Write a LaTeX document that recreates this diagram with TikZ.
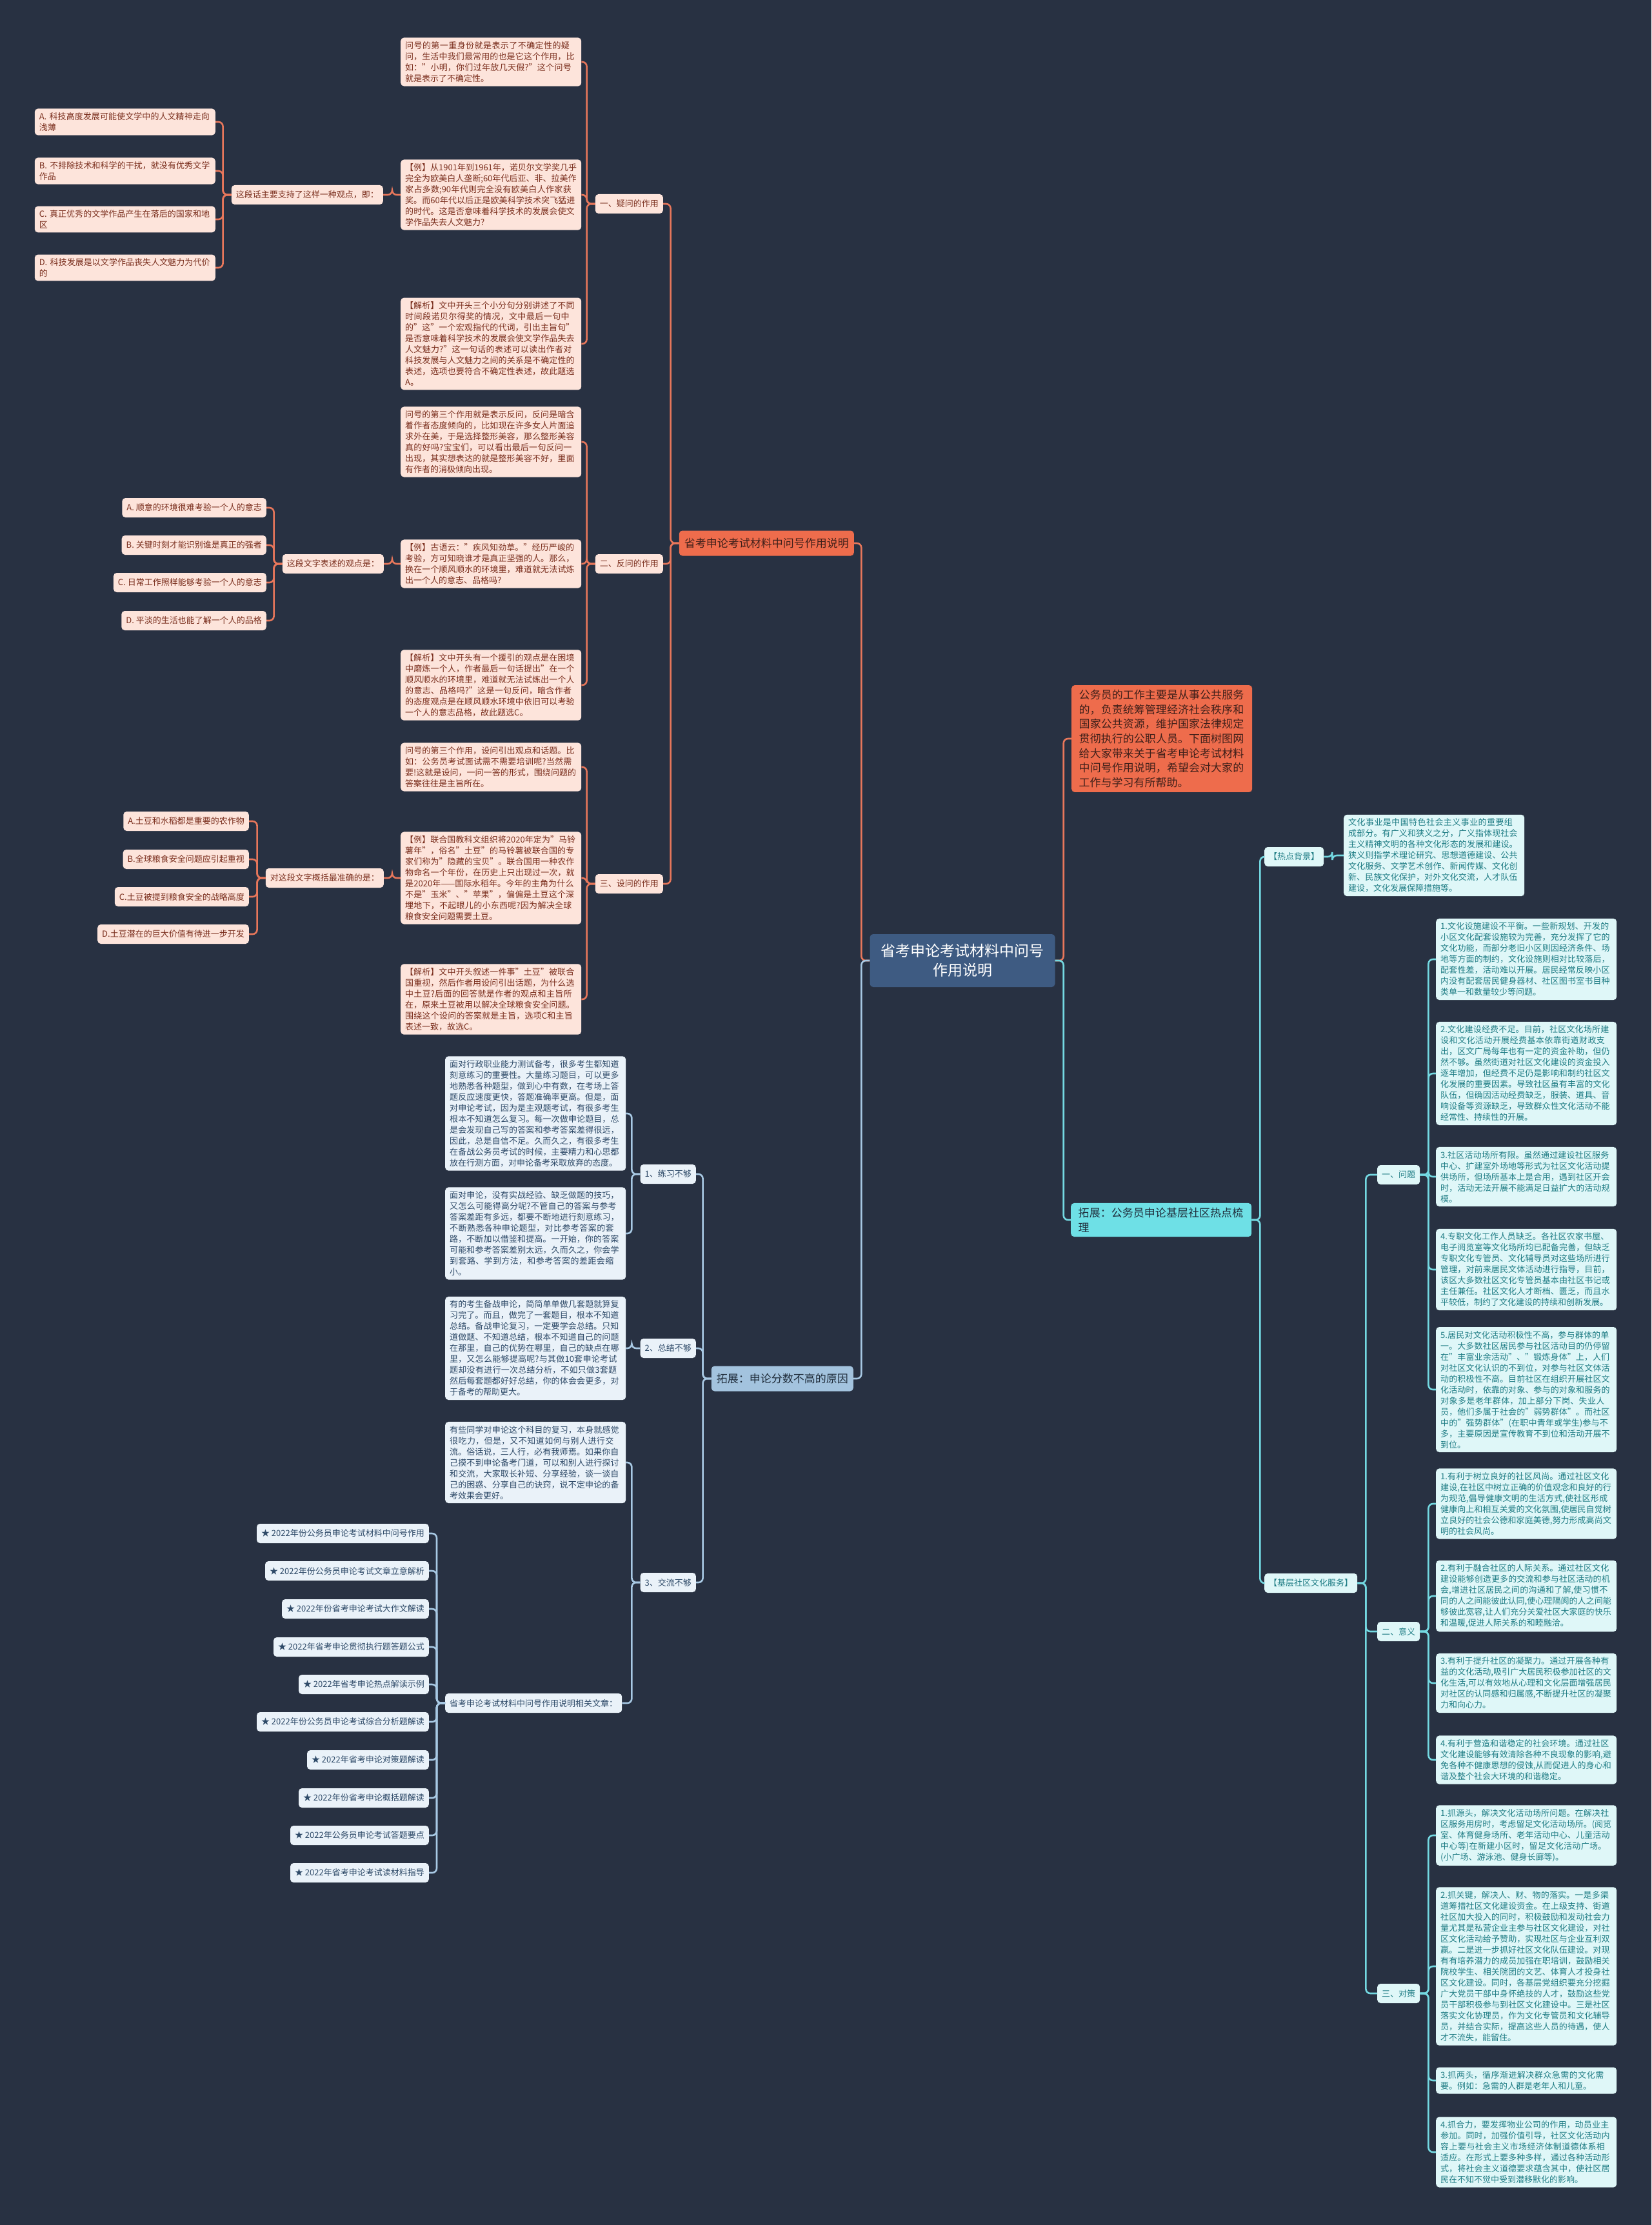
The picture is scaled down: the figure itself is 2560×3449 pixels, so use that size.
\documentclass[tikz,border=0pt]{standalone}
\usepackage{fontspec}
\setmainfont{Noto Sans CJK SC}
\XeTeXlinebreaklocale "zh"
\XeTeXlinebreakskip=0pt plus 1pt
\definecolor{bgnavy}{HTML}{283142}
\definecolor{orline}{HTML}{E8775B}
\definecolor{orfill}{HTML}{FDE4DB}
\definecolor{ortext}{HTML}{7A2E1D}
\definecolor{orhead}{HTML}{EE6C4C}
\definecolor{ordark}{HTML}{40201A}
\definecolor{rootblue}{HTML}{3E5B82}
\definecolor{blline}{HTML}{A8C9E4}
\definecolor{blhead}{HTML}{A3C3DE}
\definecolor{blfill}{HTML}{EAF2F9}
\definecolor{bltext}{HTML}{2E4A68}
\definecolor{cyline}{HTML}{74D9E2}
\definecolor{cyhead}{HTML}{6EE0E6}
\definecolor{cyfill}{HTML}{DFF7F8}
\definecolor{cytext}{HTML}{1E7C84}
\definecolor{headtext}{HTML}{1F2C3A}

\begin{document}
\begin{tikzpicture}[x=1pt, y=-1pt,
	card/.style={rounded corners=5pt, inner xsep=7pt, inner ysep=6pt, font=\fontsize{13pt}{17pt}\selectfont},
	otext/.style={card, fill=orfill, text=ortext, text width=266pt, align=left},
	otag/.style={card, fill=orfill, text=ortext, minimum height=30pt},
	btext/.style={card, fill=blfill, text=bltext, text width=266pt, align=left},
	btag/.style={card, fill=blfill, text=bltext, minimum height=30pt},
	ctext/.style={card, fill=cyfill, text=cytext, text width=266pt, align=left},
	ctag/.style={card, fill=cyfill, text=cytext, minimum height=30pt},
	bighead/.style={rounded corners=5pt, inner xsep=8pt, inner ysep=7pt, minimum height=39pt, font=\fontsize{17pt}{23pt}\selectfont},
	oline/.style={color=orline, line width=2.6pt},
	bline/.style={color=blline, line width=2.6pt},
	cline/.style={color=cyline, line width=2.6pt},
	tolft/.style={rounded corners=7pt, to path={-- ++(-13,0) |- (\tikztotarget)}},
	torgt/.style={rounded corners=7pt, to path={-- ++(13,0) |- (\tikztotarget)}}]
	\fill[bgnavy] (0,0) rectangle (2560,3449);
	\useasboundingbox (0,0) rectangle (2560,3449);

	% centre
	\node[rounded corners=5pt, fill=rootblue, text=white, minimum width=287pt, minimum height=82pt, align=center, font=\fontsize{23pt}{30pt}\selectfont] (root) at (1492,1489) {省考申论考试材料中问号\\作用说明};
	\node[bighead, fill=orhead, text=ordark, anchor=east] (sec) at (1324,842) {省考申论考试材料中问号作用说明};
	\node[bighead, fill=orhead, text=ordark, anchor=west, inner xsep=11.5pt, text width=257pt, align=left, font=\fontsize{17pt}{22.7pt}\selectfont] (intro) at (1661,1145) {公务员的工作主要是从事公共服务的，负责统筹管理经济社会秩序和国家公共资源，维护国家法律规定贯彻执行的公职人员。下面树图网给大家带来关于省考申论考试材料中问号作用说明，希望会对大家的工作与学习有所帮助。};
	\node[bighead, fill=blhead, text=headtext, anchor=east] (ext) at (1323,2137) {拓展：申论分数不高的原因};
	\node[bighead, fill=cyhead, text=headtext, anchor=west, inner xsep=11.5pt, text width=257pt, align=left] (hotspot) at (1660,1891) {拓展：公务员申论基层社区热点梳理};

	% 一、疑问的作用
	\node[otag, anchor=east] (yi) at (1028,316) {一、疑问的作用};
	\node[otext, anchor=west] (yia) at (621,96) {问号的第一重身份就是表示了不确定性的疑问，生活中我们最常用的也是它这个作用，比如："小明，你们过年放几天假?"这个问号就是表示了不确定性。};
	\node[otext, anchor=west] (yib) at (621,302) {【例】从1901年到1961年，诺贝尔文学奖几乎完全为欧美白人垄断;60年代后亚、非、拉美作家占多数;90年代则完全没有欧美白人作家获奖。而60年代以后正是欧美科学技术突飞猛进的时代。这是否意味着科学技术的发展会使文学作品失去人文魅力?};
	\node[otext, anchor=west] (yic) at (621,533) {【解析】文中开头三个小分句分别讲述了不同时间段诺贝尔得奖的情况，文中最后一句中的"这"一个宏观指代的代词，引出主旨句"是否意味着科学技术的发展会使文学作品失去人文魅力?"这一句话的表述可以读出作者对科技发展与人文魅力之间的关系是不确定性的表述，选项也要符合不确定性表述，故此题选A。};
	\node[otag, anchor=east] (yiq) at (594,302) {这段话主要支持了这样一种观点，即：};
	\node[otext, anchor=east] (yi1) at (334,189) {A. 科技高度发展可能使文学中的人文精神走向浅薄};
	\node[otext, anchor=east] (yi2) at (334,265) {B. 不排除技术和科学的干扰，就没有优秀文学作品};
	\node[otext, anchor=east] (yi3) at (334,340) {C. 真正优秀的文学作品产生在落后的国家和地区};
	\node[otext, anchor=east] (yi4) at (334,415) {D. 科技发展是以文学作品丧失人文魅力为代价的};

	% 二、反问的作用
	\node[otag, anchor=east] (er) at (1028,874) {二、反问的作用};
	\node[otext, anchor=west] (era) at (621,685) {问号的第三个作用就是表示反问，反问是暗含着作者态度倾向的，比如现在许多女人片面追求外在美，于是选择整形美容，那么整形美容真的好吗?宝宝们，可以看出最后一句反问一出现，其实想表达的就是整形美容不好，里面有作者的消极倾向出现。};
	\node[otext, anchor=west] (erb) at (621,874) {【例】古语云："疾风知劲草。"经历严峻的考验，方可知晓谁才是真正坚强的人。那么，换在一个顺风顺水的环境里，难道就无法试炼出一个人的意志、品格吗?};
	\node[otext, anchor=west] (erc) at (621,1062) {【解析】文中开头有一个援引的观点是在困境中磨炼一个人，作者最后一句话提出"在一个顺风顺水的环境里，难道就无法试炼出一个人的意志、品格吗?"这是一句反问，暗含作者的态度观点是在顺风顺水环境中依旧可以考验一个人的意志品格，故此题选C。};
	\node[otag, anchor=east] (erq) at (595,874) {这段文字表述的观点是：};
	\node[otag, anchor=east] (er1) at (413,787) {A. 顺意的环境很难考验一个人的意志};
	\node[otag, anchor=east] (er2) at (413,845) {B. 关键时刻才能识别谁是真正的强者};
	\node[otag, anchor=east] (er3) at (413,903) {C. 日常工作照样能够考验一个人的意志};
	\node[otag, anchor=east] (er4) at (413,962) {D. 平淡的生活也能了解一个人的品格};

	% 三、设问的作用
	\node[otag, anchor=east] (san) at (1028,1370) {三、设问的作用};
	\node[otext, anchor=west] (sana) at (621,1189) {问号的第三个作用，设问引出观点和话题。比如：公务员考试面试需不需要培训呢?当然需要!这就是设问，一问一答的形式，围绕问题的答案往往是主旨所在。};
	\node[otext, anchor=west] (sanb) at (621,1361) {【例】联合国教科文组织将2020年定为"马铃薯年"，俗名"土豆"的马铃薯被联合国的专家们称为"隐藏的宝贝"。联合国用一种农作物命名一个年份，在历史上只出现过一次，就是2020年——国际水稻年。今年的主角为什么不是"玉米"、"苹果"，偏偏是土豆这个深埋地下，不起眼儿的小东西呢?因为解决全球粮食安全问题需要土豆。};
	\node[otext, anchor=west] (sanc) at (621,1549) {【解析】文中开头叙述一件事"土豆"被联合国重视，然后作者用设问引出话题，为什么选中土豆?后面的回答就是作者的观点和主旨所在，原来土豆被用以解决全球粮食安全问题。围绕这个设问的答案就是主旨，选项C和主旨表述一致，故选C。};
	\node[otag, anchor=east] (sanq) at (595,1361) {对这段文字概括最准确的是：};
	\node[otag, anchor=east] (san1) at (386,1273) {A.土豆和水稻都是重要的农作物};
	\node[otag, anchor=east] (san2) at (386,1332) {B.全球粮食安全问题应引起重视};
	\node[otag, anchor=east] (san3) at (386,1390) {C.土豆被提到粮食安全的战略高度};
	\node[otag, anchor=east] (san4) at (386,1448) {D.土豆潜在的巨大价值有待进一步开发};

	% 申论分数不高的原因
	\node[btag, anchor=east] (lx) at (1079,1820) {1、练习不够};
	\node[btag, anchor=east] (zj) at (1079,2090) {2、总结不够};
	\node[btag, anchor=east] (jl) at (1079,2453) {3、交流不够};
	\node[btext, anchor=west] (lxa) at (690,1726) {面对行政职业能力测试备考，很多考生都知道刻意练习的重要性。大量练习题目，可以更多地熟悉各种题型，做到心中有数，在考场上答题反应速度更快，答题准确率更高。但是，面对申论考试，因为是主观题考试，有很多考生根本不知道怎么复习。每一次做申论题目，总是会发现自己写的答案和参考答案差得很远，因此，总是自信不足。久而久之，有很多考生在备战公务员考试的时候，主要精力和心思都放在行测方面，对申论备考采取放弃的态度。};
	\node[btext, anchor=west] (lxb) at (690,1912) {面对申论，没有实战经验、缺乏做题的技巧，又怎么可能得高分呢?不管自己的答案与参考答案差距有多远，都要不断地进行刻意练习，不断熟悉各种申论题型，对比参考答案的套路，不断加以借鉴和提高。一开始，你的答案可能和参考答案差别太远，久而久之，你会学到套路、学到方法，和参考答案的差距会缩小。};
	\node[btext, anchor=west] (zja) at (690,2090) {有的考生备战申论，简简单单做几套题就算复习完了。而且，做完了一套题目，根本不知道总结。备战申论复习，一定要学会总结。只知道做题、不知道总结，根本不知道自己的问题在那里，自己的优势在哪里，自己的缺点在哪里，又怎么能够提高呢?与其做10套申论考试题却没有进行一次总结分析，不如只做3套题然后每套题都好好总结，你的体会会更多，对于备考的帮助更大。};
	\node[btext, anchor=west] (jla) at (690,2267) {有些同学对申论这个科目的复习，本身就感觉很吃力，但是，又不知道如何与别人进行交流。俗话说，三人行，必有我师焉。如果你自己摸不到申论备考门道，可以和别人进行探讨和交流，大家取长补短、分享经验，谈一谈自己的困惑、分享自己的诀窍，说不定申论的备考效果会更好。};
	\node[btag, anchor=west] (jlb) at (690,2640) {省考申论考试材料中问号作用说明相关文章：};
	\node[btag, anchor=east] (art1) at (665,2377) {★ 2022年份公务员申论考试材料中问号作用};
	\node[btag, anchor=east] (art2) at (665,2435) {★ 2022年份公务员申论考试文章立意解析};
	\node[btag, anchor=east] (art3) at (665,2494) {★ 2022年份省考申论考试大作文解读};
	\node[btag, anchor=east] (art4) at (665,2553) {★ 2022年省考申论贯彻执行题答题公式};
	\node[btag, anchor=east] (art5) at (665,2611) {★ 2022年省考申论热点解读示例};
	\node[btag, anchor=east] (art6) at (665,2669) {★ 2022年份公务员申论考试综合分析题解读};
	\node[btag, anchor=east] (art7) at (665,2728) {★ 2022年省考申论对策题解读};
	\node[btag, anchor=east] (art8) at (665,2787) {★ 2022年份省考申论概括题解读};
	\node[btag, anchor=east] (art9) at (665,2845) {★ 2022年公务员申论考试答题要点};
	\node[btag, anchor=east] (art10) at (665,2903) {★ 2022年省考申论考试读材料指导};

	% 基层社区热点梳理
	\node[ctag, anchor=west] (bg) at (1960,1328) {【热点背景】};
	\node[ctext, anchor=west] (bgtext) at (2083,1326) {文化事业是中国特色社会主义事业的重要组成部分。有广义和狭义之分，广义指体现社会主义精神文明的各种文化形态的发展和建设。狭义则指学术理论研究、思想道德建设、公共文化服务、文学艺术创作、新闻传媒、文化创新、民族文化保护，对外文化交流，人才队伍建设，文化发展保障措施等。};
	\node[ctag, anchor=west] (svc) at (1960,2454) {【基层社区文化服务】};
	\node[ctag, anchor=west] (wt) at (2135,1821) {一、问题};
	\node[ctag, anchor=west] (yy) at (2135,2529) {二、意义};
	\node[ctag, anchor=west] (dc) at (2135,3090) {三、对策};
	\node[ctext, anchor=west] (wt1) at (2226,1487) {1.文化设施建设不平衡。一些新规划、开发的小区文化配套设施较为完善，充分发挥了它的文化功能，而部分老旧小区则因经济条件、场地等方面的制约，文化设施则相对比较落后，配套性差，活动难以开展。居民经常反映小区内没有配套居民健身器材、社区图书室书目种类单一和数量较少等问题。};
	\node[ctext, anchor=west] (wt2) at (2226,1664) {2.文化建设经费不足。目前，社区文化场所建设和文化活动开展经费基本依靠街道财政支出，区文广局每年也有一定的资金补助，但仍然不够。虽然街道对社区文化建设的资金投入逐年增加，但经费不足仍是影响和制约社区文化发展的重要因素。导致社区虽有丰富的文化队伍，但确因活动经费缺乏，服装、道具、音响设备等资源缺乏，导致群众性文化活动不能经常性、持续性的开展。};
	\node[ctext, anchor=west] (wt3) at (2226,1824) {3.社区活动场所有限。虽然通过建设社区服务中心、扩建室外场地等形式为社区文化活动提供场所，但场所基本上是合用，遇到社区开会时，活动无法开展不能满足日益扩大的活动规模。};
	\node[ctext, anchor=west] (wt4) at (2226,1968) {4.专职文化工作人员缺乏。各社区农家书屋、电子阅览室等文化场所均已配备完善，但缺乏专职文化专管员、文化辅导员对这些场所进行管理，对前来居民文体活动进行指导，目前，该区大多数社区文化专管员基本由社区书记或主任兼任。社区文化人才断档、匮乏，而且水平较低，制约了文化建设的持续和创新发展。};
	\node[ctext, anchor=west] (wt5) at (2226,2154) {5.居民对文化活动积极性不高，参与群体的单一。大多数社区居民参与社区活动目的仍停留在"丰富业余活动"、"锻炼身体"上，人们对社区文化认识的不到位，对参与社区文体活动的积极性不高。目前社区在组织开展社区文化活动时，依靠的对象、参与的对象和服务的对象多是老年群体，加上部分下岗、失业人员，他们多属于社会的"弱势群体"。而社区中的"强势群体"(在职中青年或学生)参与不多，主要原因是宣传教育不到位和活动开展不到位。};
	\node[ctext, anchor=west] (yy1) at (2226,2331) {1.有利于树立良好的社区风尚。通过社区文化建设,在社区中树立正确的价值观念和良好的行为规范,倡导健康文明的生活方式,使社区形成健康向上和相互关爱的文化氛围,使居民自觉树立良好的社会公德和家庭美德,努力形成高尚文明的社会风尚。};
	\node[ctext, anchor=west] (yy2) at (2226,2474) {2.有利于融合社区的人际关系。通过社区文化建设能够创造更多的交流和参与社区活动的机会,增进社区居民之间的沟通和了解,使习惯不同的人之间能彼此认同,使心理隔阂的人之间能够彼此宽容,让人们充分关爱社区大家庭的快乐和温暖,促进人际关系的和睦融洽。};
	\node[ctext, anchor=west] (yy3) at (2226,2609) {3.有利于提升社区的凝聚力。通过开展各种有益的文化活动,吸引广大居民积极参加社区的文化生活,可以有效地从心理和文化层面增强居民对社区的认同感和归属感,不断提升社区的凝聚力和向心力。};
	\node[ctext, anchor=west] (yy4) at (2226,2728) {4.有利于营造和谐稳定的社会环境。通过社区文化建设能够有效清除各种不良现象的影响,避免各种不健康思想的侵蚀,从而促进人的身心和谐及整个社会大环境的和谐稳定。};
	\node[ctext, anchor=west] (dc1) at (2226,2845) {1.抓源头，解决文化活动场所问题。在解决社区服务用房时，考虑留足文化活动场所。(阅览室、体育健身场所、老年活动中心、儿童活动中心等)在新建小区时，留足文化活动广场。(小广场、游泳池、健身长廊等)。};
	\node[ctext, anchor=west] (dc2) at (2226,3048) {2.抓关键，解决人、财、物的落实。一是多渠道筹措社区文化建设资金。在上级支持、街道社区加大投入的同时，积极鼓励和发动社会力量尤其是私营企业主参与社区文化建设，对社区文化活动给予赞助，实现社区与企业互利双赢。二是进一步抓好社区文化队伍建设。对现有有培养潜力的成员加强在职培训，鼓励相关院校学生、相关院团的文艺、体育人才投身社区文化建设。同时，各基层党组织要充分挖掘广大党员干部中身怀绝技的人才，鼓励这些党员干部积极参与到社区文化建设中。三是社区落实文化协理员，作为文化专管员和文化辅导员，并结合实际，提高这些人员的待遇，使人才不流失，能留住。};
	\node[ctext, anchor=west] (dc3) at (2226,3225) {3.抓两头，循序渐进解决群众急需的文化需要。例如：急需的人群是老年人和儿童。};
	\node[ctext, anchor=west] (dc4) at (2226,3336) {4.抓合力，要发挥物业公司的作用，动员业主参加。同时，加强价值引导，社区文化活动内容上要与社会主义市场经济体制道德体系相适应。在形式上要多种多样，通过各种活动形式，将社会主义道德要求蕴含其中，使社区居民在不知不觉中受到潜移默化的影响。};

	% connectors
	\draw[oline] (root.west) edge[tolft] (sec.east);
	\draw[oline] (root.east) edge[torgt] (intro.west);
	\draw[bline] (root.west) edge[tolft] (ext.east);
	\draw[cline] (root.east) edge[torgt] (hotspot.west);
	\draw[oline] (sec.west) edge[tolft] (yi.east) edge[tolft] (er.east) edge[tolft] (san.east);
	\draw[oline] (yi.west) edge[tolft] (yia.east) edge[tolft] (yib.east) edge[tolft] (yic.east);
	\draw[oline] (yib.west) edge[tolft] (yiq.east);
	\draw[oline] (yiq.west) edge[tolft] (yi1.east) edge[tolft] (yi2.east) edge[tolft] (yi3.east) edge[tolft] (yi4.east);
	\draw[oline] (er.west) edge[tolft] (era.east) edge[tolft] (erb.east) edge[tolft] (erc.east);
	\draw[oline] (erb.west) edge[tolft] (erq.east);
	\draw[oline] (erq.west) edge[tolft] (er1.east) edge[tolft] (er2.east) edge[tolft] (er3.east) edge[tolft] (er4.east);
	\draw[oline] (san.west) edge[tolft] (sana.east) edge[tolft] (sanb.east) edge[tolft] (sanc.east);
	\draw[oline] (sanb.west) edge[tolft] (sanq.east);
	\draw[oline] (sanq.west) edge[tolft] (san1.east) edge[tolft] (san2.east) edge[tolft] (san3.east) edge[tolft] (san4.east);
	\draw[bline] (ext.west) edge[tolft] (lx.east) edge[tolft] (zj.east) edge[tolft] (jl.east);
	\draw[bline] (lx.west) edge[tolft] (lxa.east) edge[tolft] (lxb.east);
	\draw[bline] (zj.west) edge[tolft] (zja.east);
	\draw[bline] (jl.west) edge[tolft] (jla.east) edge[tolft] (jlb.east);
	\draw[bline] (jlb.west) edge[tolft] (art1.east) edge[tolft] (art2.east) edge[tolft] (art3.east) edge[tolft] (art4.east) edge[tolft] (art5.east)
		edge[tolft] (art6.east) edge[tolft] (art7.east) edge[tolft] (art8.east) edge[tolft] (art9.east) edge[tolft] (art10.east);
	\draw[cline] (hotspot.east) edge[torgt] (bg.west) edge[torgt] (svc.west);
	\draw[cline] (bg.east) edge[torgt] (bgtext.west);
	\draw[cline] (svc.east) edge[torgt] (wt.west) edge[torgt] (yy.west) edge[torgt] (dc.west);
	\draw[cline] (wt.east) edge[torgt] (wt1.west) edge[torgt] (wt2.west) edge[torgt] (wt3.west) edge[torgt] (wt4.west) edge[torgt] (wt5.west);
	\draw[cline] (yy.east) edge[torgt] (yy1.west) edge[torgt] (yy2.west) edge[torgt] (yy3.west) edge[torgt] (yy4.west);
	\draw[cline] (dc.east) edge[torgt] (dc1.west) edge[torgt] (dc2.west) edge[torgt] (dc3.west) edge[torgt] (dc4.west);
\end{tikzpicture}
\end{document}
